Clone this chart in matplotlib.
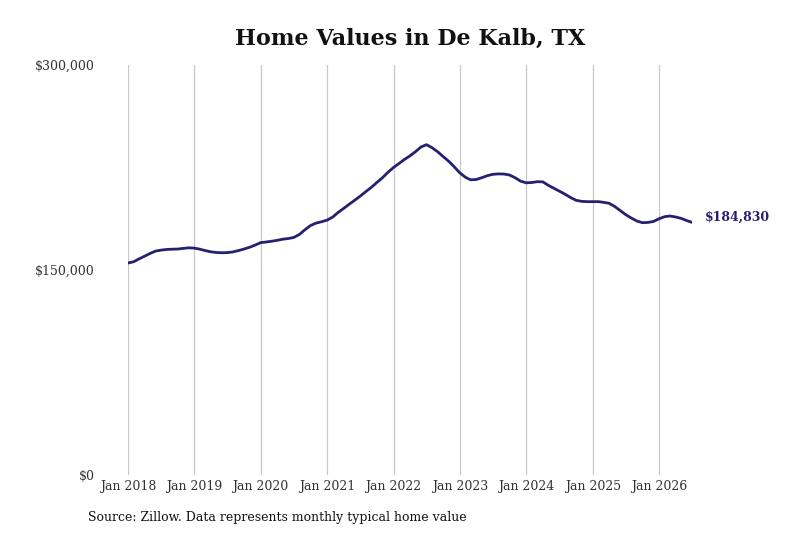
import numpy as np
import pandas as pd
import matplotlib
matplotlib.use('Agg')
import matplotlib.pyplot as plt
import matplotlib.dates as mdates
from matplotlib.ticker import FuncFormatter

# monthly typical home value, Jan 2018 .. Jul 2026
values_2018 = [155100, 156000, 158000, 160000, 162000, 163800, 164500, 165000, 165200, 165300, 165800, 166200]
values_2019 = [166000, 165200, 164200, 163300, 162800, 162600, 162700, 163200, 164200, 165300, 166600, 168200]
values_2020 = [170000, 170500, 171000, 171700, 172500, 173000, 173800, 176000, 179500, 182500, 184300, 185300]
values_2021 = [186500, 188800, 192000, 195000, 198000, 201000, 204000, 207300, 210500, 214000, 217500, 221500]
values_2022 = [225000, 228000, 230800, 233500, 236500, 240000, 241700, 239500, 236500, 233000, 229500, 225500]
values_2023 = [221000, 217800, 216000, 216200, 217500, 219000, 220000, 220300, 220200, 219500, 217500, 215000]
values_2024 = [213800, 214000, 214600, 214500, 212000, 209800, 207700, 205500, 203000, 201000, 200200, 200000]
values_2025 = [200000, 200000, 199500, 198800, 196500, 193500, 190500, 188000, 185800, 184600, 184800, 185500]
values_2026 = [187500, 189000, 189500, 188800, 187800, 186200, 184830]

values = (values_2018 + values_2019 + values_2020 + values_2021 + values_2022
          + values_2023 + values_2024 + values_2025 + values_2026)
dates = pd.date_range('2018-01-01', periods=len(values), freq='MS')
last_label = '$184,830'
tick_years = list(range(2018, 2027))

navy = '#25206f'
plt.rcParams['font.family'] = 'DejaVu Serif'

fig = plt.figure(figsize=(8, 5.33), dpi=100)
ax = fig.add_axes([0.16, 0.109, 0.705, 0.769])

ax.plot(dates, values, color=navy, linewidth=2.0, solid_capstyle='round')

ax.set_xlim(dates[0], dates[-1])
ax.set_ylim(0, 300000)
ax.set_yticks([0, 150000, 300000])
ax.yaxis.set_major_formatter(FuncFormatter(lambda v, p: '${:,.0f}'.format(v)))
ax.set_xticks([pd.Timestamp(f'{y}-01-01') for y in tick_years])
ax.xaxis.set_major_formatter(mdates.DateFormatter('Jan %Y'))

ax.grid(axis='x', color='#c8c8c8', linewidth=0.9)
ax.set_axisbelow(True)
for s in ax.spines.values():
    s.set_visible(False)
ax.tick_params(axis='both', length=0, labelsize=9, colors='#333333')
ax.tick_params(axis='y', pad=24)
ax.tick_params(axis='x', pad=4)

ax.annotate(last_label, xy=(dates[-1], values[-1]), xytext=(9.5, 4),
            textcoords='offset points', va='center', ha='left',
            fontsize=9, fontweight='bold', color=navy)

fig.text(0.5125, 0.927, 'Home Values in De Kalb, TX', ha='center', va='center',
         fontsize=16, fontweight='bold', color='#111111')
fig.text(0.11, 0.03, 'Source: Zillow. Data represents monthly typical home value',
         ha='left', va='center', fontsize=9, color='#111111')

fig.savefig('out.png', dpi=100)
